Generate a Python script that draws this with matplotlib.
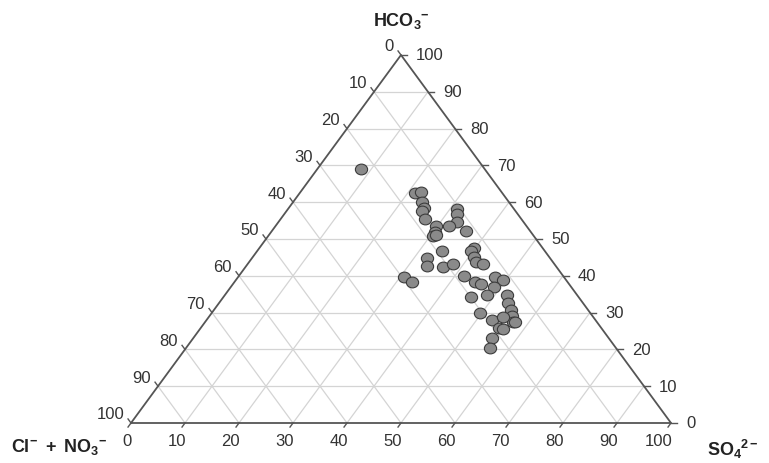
import matplotlib
matplotlib.use("Agg")
import matplotlib.pyplot as plt
import numpy as np
from matplotlib.path import Path
from matplotlib.transforms import Affine2D

plt.rcParams['font.family'] = ['Liberation Sans', 'DejaVu Sans']
plt.rcParams['mathtext.fontset'] = 'custom'
plt.rcParams['mathtext.rm'] = 'Liberation Sans'
plt.rcParams['mathtext.bf'] = 'Liberation Sans:bold'
plt.rcParams['mathtext.it'] = 'Liberation Sans:italic'

# ---- data (percent) ----
hco3 = [69.0, 62.5, 62.9, 60.1, 58.3, 57.7, 55.4, 58.2, 56.8, 54.7,
        53.6, 53.5, 52.0, 50.7, 51.1, 52.3, 46.8, 44.8, 42.6, 42.5,
        43.2, 47.6, 46.7, 45.0, 43.7, 43.2, 39.6, 38.2, 40.0, 38.4,
        37.8, 39.6, 38.9, 36.9, 34.8, 34.3, 34.8, 32.6, 30.8, 29.2,
        27.5, 29.9, 28.0, 28.7, 25.7, 25.5, 23.0, 20.4, 27.4]
so4 = [8.1, 21.3, 22.3, 23.9, 25.2, 25.1, 26.8, 31.3, 31.9, 33.1,
       32.1, 29.7, 30.3, 30.6, 30.9, 35.8, 34.1, 32.5, 33.5, 36.5,
       38.0, 39.7, 39.6, 41.0, 42.0, 43.6, 30.7, 33.0, 41.6, 44.5,
       46.0, 47.6, 49.5, 48.8, 48.5, 45.9, 52.2, 53.6, 54.9, 55.9,
       57.0, 49.7, 52.8, 54.5, 55.3, 56.1, 55.3, 56.2, 57.4]
cl_no3 = [100 - h - s for h, s in zip(hco3, so4)]

grid_vals = [10, 20, 30, 40, 50, 60, 70, 80, 90]
tick_vals = [0, 10, 20, 30, 40, 50, 60, 70, 80, 90, 100]
bottom_labels = [str(v) for v in tick_vals]              # SO4 axis
right_labels = [str(v) for v in tick_vals]               # HCO3 axis
left_labels = [str(100 - v) for v in tick_vals]          # at HCO3 = v


def tern(h, s):
    h = np.asarray(h, float)
    s = np.asarray(s, float)
    return s + h / 2.0, h


W, H = 769, 464
fig = plt.figure(figsize=(W / 100, H / 100), dpi=100)
x0, x1, yb, ytop = 131, 671, 424, 56
ax = fig.add_axes([x0 / W, (H - yb) / H, (x1 - x0) / W, (yb - ytop) / H])
ax.set_xlim(0, 100)
ax.set_ylim(0, 100)
ax.axis('off')

gcol = '#d4d4d4'
for v in grid_vals:
    xa, ya = tern([v, v], [0, 100 - v])
    ax.plot(xa, ya, color=gcol, lw=0.9, zorder=1, clip_on=False)
for v in grid_vals:
    xa, ya = tern([0, 100 - v], [v, v])
    ax.plot(xa, ya, color=gcol, lw=0.9, zorder=1, clip_on=False)
for v in grid_vals:
    xa, ya = tern([0, 100 - v], [100 - v, 0])
    ax.plot(xa, ya, color=gcol, lw=0.9, zorder=1, clip_on=False)

bx, by = tern([0, 0, 100, 0], [0, 100, 0, 0])
ax.plot(bx, by, color='#555555', lw=1.3, zorder=2, clip_on=False)

tl = 1.1
tcol = '#555555'
for v in tick_vals:
    xr, yr = tern(v, 100 - v)
    ax.plot([xr, xr + tl], [yr, yr], color=tcol, lw=1.0, clip_on=False, zorder=2)
    xl, yl = tern(v, 0)
    ax.plot([xl, xl - tl / 2], [yl, yl + tl], color=tcol, lw=1.0, clip_on=False, zorder=2)
    xb, ybb = tern(0, v)
    ax.plot([xb, xb - tl / 2], [ybb, ybb - tl], color=tcol, lw=1.0, clip_on=False, zorder=2)

ell = Path.unit_circle().transformed(Affine2D().scale(1.0, 0.88))
px, py = tern(hco3, so4)
ax.scatter(px, py, s=8.8 ** 2, marker=ell, facecolor='#8a8a8a',
           edgecolor='#3c3c3c', linewidths=0.8, zorder=5, clip_on=False)

fs = 12
tcolor = '#333333'
to_disp = ax.transData
inv = fig.transFigure.inverted()


def place(xd, yd, dxp, dyp, text, ha, va):
    p = to_disp.transform((xd, yd))
    q = inv.transform((p[0] + dxp, p[1] + dyp))
    fig.text(q[0], q[1], text, ha=ha, va=va, fontsize=fs, color=tcolor)


for v, lab in zip(tick_vals, right_labels):
    xr, yr = tern(v, 100 - v)
    place(xr, yr, 15, 0, lab, 'left', 'center')
for v, lab in zip(tick_vals, left_labels):
    xl, yl = tern(v, 0)
    place(xl, yl, -7, 9, lab, 'right', 'center')
for v, lab in zip(tick_vals, bottom_labels):
    xb, ybb = tern(0, v)
    place(xb, ybb, 1, -18, lab, 'right', 'center')

tfs = 13
fig.text(401 / W, 1 - 21 / H, r'$\mathbf{HCO_3{}^{-}}$', ha='center', va='center',
         fontsize=tfs, color='#222222')
fig.text(11 / W, 1 - 447 / H, r'$\mathbf{Cl^{-}\ +\ NO_3{}^{-}}$', ha='left', va='center',
         fontsize=tfs, color='#222222')
fig.text(707 / W, 1 - 449 / H, r'$\mathbf{SO_4{}^{2-}}$', ha='left', va='center',
         fontsize=tfs, color='#222222')

fig.savefig('out.png', dpi=100, facecolor='white')
